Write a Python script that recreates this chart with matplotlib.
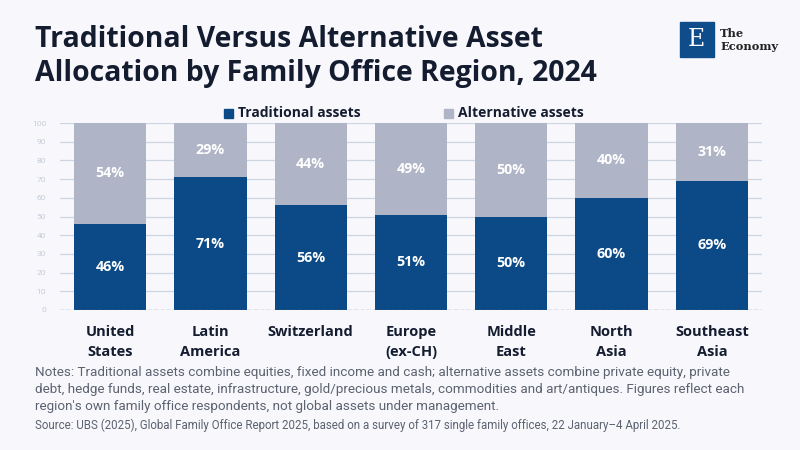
import matplotlib.pyplot as plt
from matplotlib.patches import Rectangle

# data
regions = ['United\nStates', 'Latin\nAmerica', 'Switzerland', 'Europe\n(ex-CH)',
           'Middle\nEast', 'North\nAsia', 'Southeast\nAsia']
traditional = [46, 71, 56, 51, 50, 60, 69]
alternative = [54, 29, 44, 49, 50, 40, 31]

bg = '#f8f8fc'
blue = '#0c4a87'
grey = '#afb5c6'
dark = '#141c30'
boldfont = ['Open Sans', 'DejaVu Sans']

plt.rcParams['font.family'] = ['Roboto', 'DejaVu Sans']

fig = plt.figure(figsize=(8, 4.5), dpi=100, facecolor=bg)
ax = fig.add_axes([60/800, 1-310/450, 702/800, 187/450], facecolor=bg)

x = range(len(regions))
ax.bar(x, traditional, width=0.72, color=blue, zorder=3)
ax.bar(x, alternative, width=0.72, bottom=traditional, color=grey, zorder=3)

for i in x:
    ax.text(i, traditional[i]/2, f'{traditional[i]}%', ha='center', va='center',
            color='white', fontsize=10.3, fontweight='bold', family=boldfont, zorder=4)
    ax.text(i, traditional[i] + alternative[i]/2, f'{alternative[i]}%', ha='center',
            va='center', color='white', fontsize=10.3, fontweight='bold', family=boldfont, zorder=4)

ax.set_xlim(-0.5, 6.5)
ax.set_ylim(0, 100)
ax.set_yticks(range(0, 101, 10))
ax.tick_params(axis='y', length=0, labelsize=6, labelcolor='#c5ccd9', pad=10)
ax.tick_params(axis='x', length=0, pad=11)
ax.set_xticks(list(x))
ax.set_xticklabels(regions, fontsize=10.5, fontweight='bold', color=dark, linespacing=1.55,
                   family=boldfont)
ax.grid(axis='y', color='#cdd4e2', linewidth=0.9, zorder=0)
for s in ax.spines.values():
    s.set_visible(False)
ax.axhline(0, color='#777f8c', linewidth=0.9, linestyle=(0, (3, 2)), zorder=5)

# title
fig.text(35/800, 1-25/450, 'Traditional Versus Alternative Asset\nAllocation by Family Office Region, 2024',
         ha='left', va='top', fontsize=20.4, fontweight='bold', color=dark, linespacing=1.25,
         family=boldfont)

# legend
fig.patches.append(Rectangle((224/800, 1-118/450), 9/800, 9/450, transform=fig.transFigure,
                             color=blue, figure=fig))
fig.text(238/800, 1-113/450, 'Traditional assets', ha='left', va='center', fontsize=10,
         fontweight='bold', color=dark, family=boldfont)
fig.patches.append(Rectangle((444/800, 1-118/450), 9/800, 9/450, transform=fig.transFigure,
                             color=grey, figure=fig))
fig.text(458/800, 1-113/450, 'Alternative assets', ha='left', va='center', fontsize=10,
         fontweight='bold', color=dark, family=boldfont)

# logo
fig.patches.append(Rectangle((680/800, 1-57/450), 34/800, 35/450, transform=fig.transFigure,
                             color='#0f4c8a', figure=fig))
fig.text(696/800, 1-40/450, 'E', ha='center', va='center', fontsize=17, color='white',
         family='DejaVu Serif')
fig.text(720/800, 1-40/450, 'The\nEconomy', ha='left', va='center', fontsize=8.2,
         color='#222222', family='DejaVu Serif', fontweight='bold', linespacing=1.15)

notes = ("Notes: Traditional assets combine equities, fixed income and cash; alternative assets combine private equity, private\n"
         "debt, hedge funds, real estate, infrastructure, gold/precious metals, commodities and art/antiques. Figures reflect each\n"
         "region's own family office respondents, not global assets under management.")
fig.text(35/800, 1-366/450, notes, ha='left', va='top', fontsize=9.7, color='#5b6270',
         linespacing=1.42)
fig.text(35/800, 1-419/450, 'Source: UBS (2025), Global Family Office Report 2025, based on a survey of 317 single family offices, 22 January\u20134 April 2025.',
         ha='left', va='top', fontsize=8.3, color='#5b6270')

fig.savefig('out.png', dpi=100, facecolor=bg)
